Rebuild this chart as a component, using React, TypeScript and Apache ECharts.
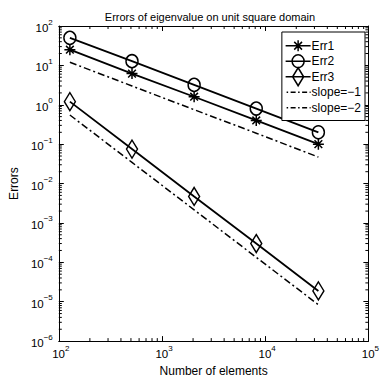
import React, { useEffect, useRef } from "react";
import * as echarts from "echarts";

const elements = [128, 512, 2048, 8192, 32768];
const err1 = [25, 6.2, 1.6, 0.4, 0.1];
const err2 = [50, 12.8, 3.2, 0.8, 0.2];
const err3 = [1.2, 0.075, 0.0047, 0.0003, 0.0000188];
const slope1 = [12, 3, 0.75, 0.19, 0.047];
const slope2 = [0.55, 0.0344, 0.00215, 0.000134, 0.0000084];
const seriesNames = ["Err1", "Err2", "Err3", "slope=\u22121", "slope=\u22122"];
const xDecades = [100, 1000, 10000];
const yDecades = [1e-6, 1e-5, 1e-4, 1e-3, 1e-2, 1e-1, 1, 10];
const minorMultipliers = [2, 3, 4, 5, 6, 7, 8, 9];

const FONT = "Liberation Sans";
const XMIN = 100, XMAX = 100000, YMIN = 1e-6, YMAX = 100;

const supLabel = (v: number) => {
  const e = Math.round(Math.log10(v));
  const es = e < 0 ? "\u2212" + Math.abs(e) : String(e);
  return `{b|10}{e|${es}}`;
};
const supLabelX = (v: number) => {
  const e = Math.round(Math.log10(v));
  return `{s|}{b|10}{e|${e}}`;
};
const rich = {
  b: { fontSize: 11.5, fontFamily: FONT, color: "#000", lineHeight: 16, verticalAlign: "bottom" },
  e: { fontSize: 8, fontFamily: FONT, color: "#000", lineHeight: 9, verticalAlign: "top" },
  s: { width: 4 },
};

const asterisk = "path://M5 0 L5 10 M0 5 L10 5 M1.5 1.5 L8.5 8.5 M8.5 1.5 L1.5 8.5";
const BOX = "M0 0 M25 18 ";
const legendIcons = [
  "path://" + BOX + "M0 9 L25 9 M12.5 3.5 L12.5 14.5 M7 9 L18 9 M8.6 5.1 L16.4 12.9 M16.4 5.1 L8.6 12.9",
  "path://" + BOX + "M0 9 L25 9 M6.5 9 A6 6.5 0 1 1 18.5 9 A6 6.5 0 1 1 6.5 9",
  "path://" + BOX + "M0 9 L25 9 M12.5 0 L18 9 L12.5 18 L7 9 Z",
  "path://" + BOX + "M1 9 L2.5 9 M5 9 L10 9 M12.5 9 L14 9 M16.5 9 L21.5 9 M24 9 L25 9",
  "path://" + BOX + "M1 9 L2.5 9 M5 9 L10 9 M12.5 9 L14 9 M16.5 9 L21.5 9 M24 9 L25 9",
];

export default function App() {
  const ref = useRef<HTMLDivElement>(null);
  useEffect(() => {
    if (!ref.current) return;
    const chart = echarts.init(ref.current, undefined, { renderer: "svg" });
    const minorData: number[][] = [];
    xDecades.forEach((d) => minorMultipliers.forEach((m) => minorData.push([d * m, 1, 0])));
    yDecades.forEach((d) => minorMultipliers.forEach((m) => minorData.push([1000, d * m, 1])));

    const baseX = {
      type: "log",
      logBase: 10,
      min: XMIN,
      max: XMAX,
      splitLine: { show: false },
      axisLine: { show: true, onZero: false, lineStyle: { color: "#000", width: 1 } },
      axisTick: { show: true, inside: true, length: 5, lineStyle: { color: "#000" } },
    };
    const baseY = {
      type: "log",
      logBase: 10,
      min: YMIN,
      max: YMAX,
      splitNumber: 8,
      splitLine: { show: false },
      axisLine: { show: true, onZero: false, lineStyle: { color: "#000", width: 1 } },
      axisTick: { show: true, inside: true, length: 5, lineStyle: { color: "#000" } },
    };
    const lineSeries = (name: string, data: number[], symbol: any, size: any, dashed: boolean) => ({
      name,
      type: "line",
      data: elements.map((x, i) => [x, data[i]]),
      symbol: dashed ? "none" : symbol,
      symbolSize: size,
      showSymbol: !dashed,
      lineStyle: dashed
        ? { color: "#000", width: 1.5, type: [7, 3, 2, 3] }
        : { color: "#000", width: 1.8 },
      itemStyle: { color: "rgba(0,0,0,0)", borderColor: "#000", borderWidth: 1.5 },
      z: 3,
    });

    chart.setOption({
      animation: false,
      backgroundColor: "#fff",
      title: {
        text: "Errors of eigenvalue on unit square domain",
        left: 205,
        top: 6,
        textAlign: "center",
        textStyle: { fontFamily: FONT, fontSize: 11, fontWeight: "normal", color: "#000" },
      },
      grid: { left: 39, right: 11, top: 26, bottom: 37, containLabel: false },
      legend: {
        orient: "vertical",
        right: 17,
        top: 32,
        backgroundColor: "#fff",
        borderColor: "#000",
        borderWidth: 1,
        borderRadius: 0,
        padding: [4, 4, 3, 3],
        itemWidth: 25,
        itemHeight: 18,
        itemGap: -4,
        textStyle: { fontFamily: FONT, fontSize: 12, color: "#000", padding: [0, 0, 0, -4] },
        data: seriesNames.map((n, i) => ({
          name: n,
          icon: legendIcons[i],
          itemStyle: { color: "rgba(0,0,0,0)", borderColor: "#000", borderWidth: 1.5 },
        })),
      },
      xAxis: [
        {
          ...baseX,
          position: "bottom",
          name: "Number of elements",
          nameLocation: "middle",
          nameGap: 21,
          nameTextStyle: { fontFamily: FONT, fontSize: 12, color: "#000", verticalAlign: "top" },
          axisLabel: { formatter: supLabelX, rich, margin: 3 },
        },
        { ...baseX, position: "top", axisLabel: { show: false } },
      ],
      yAxis: [
        {
          ...baseY,
          position: "left",
          name: "Errors",
          nameLocation: "middle",
          nameGap: 29,
          nameRotate: 90,
          nameTextStyle: { fontFamily: FONT, fontSize: 12, color: "#000" },
          axisLabel: { formatter: supLabel, rich, margin: 6 },
        },
        { ...baseY, position: "right", axisLabel: { show: false } },
      ],
      series: [
        lineSeries(seriesNames[0], err1, asterisk, 11, false),
        lineSeries(seriesNames[1], err2, "circle", [12, 13], false),
        lineSeries(seriesNames[2], err3, "diamond", [11, 18], false),
        lineSeries(seriesNames[3], slope1, "none", 0, true),
        lineSeries(seriesNames[4], slope2, "none", 0, true),
        {
          type: "custom",
          silent: true,
          data: minorData,
          z: 1,
          renderItem: (params: any, api: any) => {
            const v = api.value(0);
            const w = api.value(1);
            const flag = api.value(2);
            const st = { stroke: "#000", lineWidth: 1 };
            if (flag === 0) {
              const b = api.coord([v, YMIN]);
              const t = api.coord([v, YMAX]);
              return {
                type: "group",
                children: [
                  { type: "line", shape: { x1: b[0], y1: b[1], x2: b[0], y2: b[1] - 3 }, style: st },
                  { type: "line", shape: { x1: t[0], y1: t[1], x2: t[0], y2: t[1] + 3 }, style: st },
                ],
              };
            }
            const l = api.coord([XMIN, w]);
            const r = api.coord([XMAX, w]);
            return {
              type: "group",
              children: [
                { type: "line", shape: { x1: l[0], y1: l[1], x2: l[0] + 3, y2: l[1] }, style: st },
                { type: "line", shape: { x1: r[0], y1: r[1], x2: r[0] - 3, y2: r[1] }, style: st },
              ],
            };
          },
        },
      ],
    });
    return () => chart.dispose();
  }, []);
  return (
    <div
      ref={ref}
      style={{ position: "fixed", left: 0, top: 0, width: 382, height: 382, background: "#fff" }}
    />
  );
}
